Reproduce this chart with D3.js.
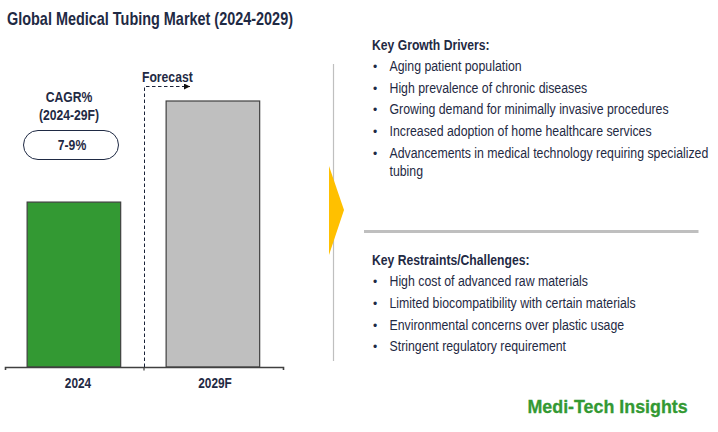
<!DOCTYPE html>
<html>
<head>
<meta charset="utf-8">
<script src="https://cdn.jsdelivr.net/npm/d3@7"></script>
<style>
html,body{margin:0;padding:0;background:#fff;}
svg{display:block;}
text{font-family:"Liberation Sans",Arial,sans-serif;fill:#1f2a44;}
.b{font-weight:bold;}
</style>
</head>
<body>
<script>
var categories = ["2024", "2029F"];
var values = [62, 100];
var barColors = ["#339933", "#bfbfbf"];
var title = "Global Medical Tubing Market (2024-2029)";
var cagrLabels = ["CAGR%", "(2024-29F)"];
var cagrValue = "7-9%";
var forecastLabel = "Forecast";
var driversTitle = "Key Growth Drivers:";
var drivers = [
  ["Aging patient population"],
  ["High prevalence of chronic diseases"],
  ["Growing demand for minimally invasive procedures"],
  ["Increased adoption of home healthcare services"],
  ["Advancements in medical technology requiring specialized", "tubing"]
];
var restraintsTitle = "Key Restraints/Challenges:";
var restraints = [
  ["High cost of advanced raw materials"],
  ["Limited biocompatibility with certain materials"],
  ["Environmental concerns over plastic usage"],
  ["Stringent regulatory requirement"]
];
var logo = "Medi-Tech Insights";

var w = 718, h = 432;
var dark = "#1f2a44";

var svg = d3.select("body").append("svg").attr("width", w).attr("height", h);

// adds a text, narrowed horizontally by k (the source text is narrower than plain Liberation Sans)
function addText(x, y, str, size, bold, anchor, k) {
  return svg.append("text")
    .attr("transform", "translate(" + x + "," + y + ") scale(" + k + ",1)")
    .attr("font-size", size)
    .attr("text-anchor", anchor || "start")
    .attr("class", bold ? "b" : null)
    .text(str);
}

addText(7, 25, title, 17.5, true, "start", 0.825);

// bars
var xScale = d3.scaleBand().domain(categories).range([5, 283]).paddingInner(0.327).paddingOuter(0.1635);
var yScale = d3.scaleLinear().domain([0, 100]).range([367, 101]);

svg.selectAll(".bar")
  .data(values)
  .enter().append("rect")
  .attr("class", "bar")
  .attr("x", function(d, i) { return xScale(categories[i]) - 0.6; })
  .attr("y", function(d) { return yScale(d); })
  .attr("width", xScale.bandwidth())
  .attr("height", function(d) { return yScale(0) - yScale(d); })
  .style("fill", function(d, i) { return barColors[i]; })
  .style("stroke", "#404040")
  .style("stroke-width", 1.2);

// axis
var axis = svg.append("g")
  .attr("transform", "translate(0,367)")
  .call(d3.axisBottom(xScale).tickSize(0).tickSizeOuter(3).tickPadding(10));
axis.select(".domain").style("stroke", "#404040").style("stroke-width", 1.6);
axis.selectAll(".tick text")
  .attr("class", "b")
  .attr("font-size", 15)
  .attr("font-family", null)
  .attr("transform", function(d, i) { return "translate(" + (i == 0 ? 3.5 : 1.5) + ",0) scale(0.79,1)"; });
svg.append("line")
  .attr("x1", 144).attr("x2", 144).attr("y1", 367).attr("y2", 370.5)
  .style("stroke", "#404040").style("stroke-width", 1.2);

// forecast marker
svg.append("defs").append("marker")
  .attr("id", "arrow")
  .attr("viewBox", "0 0 10 10")
  .attr("refX", 10).attr("refY", 5)
  .attr("markerWidth", 7).attr("markerHeight", 6)
  .attr("markerUnits", "userSpaceOnUse")
  .attr("orient", "auto")
  .append("path").attr("d", "M0,0L10,5L0,10Z").style("fill", "#111");
svg.append("path")
  .attr("d", d3.line()([[144.5, 367], [144.5, 86.5], [190, 86.5]]))
  .attr("marker-end", "url(#arrow)")
  .style("fill", "none").style("stroke", "#1a2238")
  .style("stroke-width", 1).style("stroke-dasharray", "3.5,2.5");
addText(142, 82, forecastLabel, 14.5, true, "start", 0.84);

// cagr
addText(69, 102, cagrLabels[0], 14.5, true, "middle", 0.84);
addText(69, 120, cagrLabels[1], 14.5, true, "middle", 0.84);
svg.append("rect")
  .attr("x", 23.5).attr("y", 130.5).attr("width", 95).attr("height", 29).attr("rx", 14.5)
  .style("fill", "#fff").style("stroke", dark).style("stroke-width", 1);
addText(72, 149.5, cagrValue, 14.5, true, "middle", 0.84);

// dividers and arrow
svg.append("line").attr("x1", 333.5).attr("x2", 333.5).attr("y1", 64).attr("y2", 361)
  .style("stroke", "#bfbfbf").style("stroke-width", 1.2);
svg.append("path")
  .attr("d", d3.line()([[329, 166], [344, 210], [329, 255]]) + "Z")
  .style("fill", "#ffc000");
svg.append("line").attr("x1", 364).attr("x2", 698.5).attr("y1", 231.5).attr("y2", 231.5)
  .style("stroke", "#bfbfbf").style("stroke-width", 3);

// text lists
function addList(head, items, y0, rows) {
  addText(372, y0, head, 14.5, true, "start", 0.84);
  items.forEach(function(lines, i) {
    addText(373, rows[i][0], "•", 12, false, "start", 1);
    lines.forEach(function(s, j) {
      addText(389.5, rows[i][j], s, 14.5, false, "start", 0.85);
    });
  });
}
addList(driversTitle, drivers, 50, [[71], [92.5], [114], [136], [157.5, 175.5]]);
addList(restraintsTitle, restraints, 265, [[286], [308], [329.5], [351]]);

addText(527.5, 412.5, logo, 18.5, true, "start", 0.965)
  .style("fill", "#339933").style("stroke", "#339933").style("stroke-width", 0.3);
</script>
</body>
</html>
